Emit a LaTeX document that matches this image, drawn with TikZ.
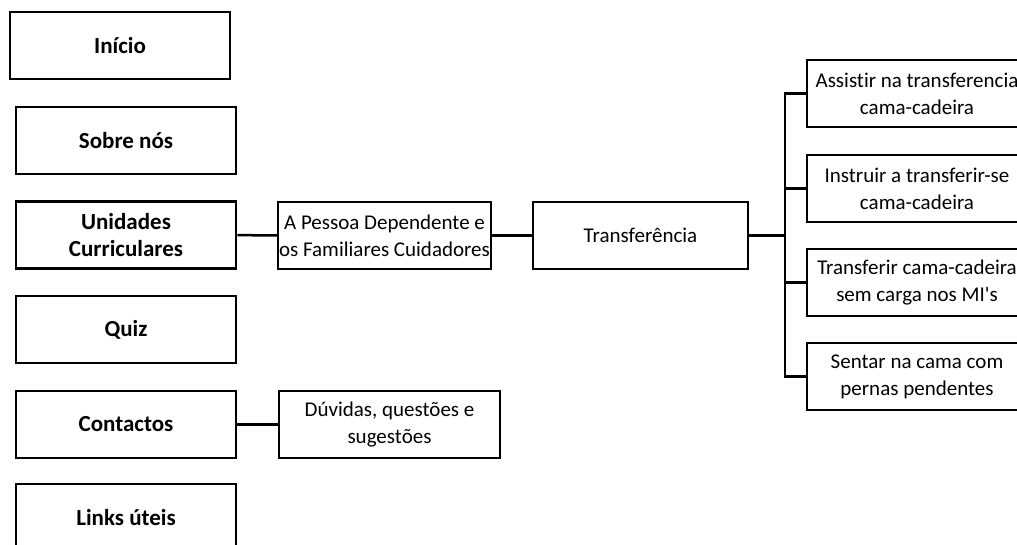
\documentclass[tikz,border=0pt]{standalone}
\usepackage{fontspec}
\setmainfont{Carlito}[Ligatures={TeXOff,NoCommon}]

\tikzset{menubox/.style={
    	draw, line width=2.5pt, minimum width=220pt, minimum height=67pt,
    	font=\fontsize{23}{27}\selectfont\bfseries, align=center, inner sep=0pt
  	},
  	subbox/.style={
    	draw, line width=2.5pt, minimum height=67pt,
    	font=\fontsize{21}{27}\selectfont, align=center, inner sep=0pt
  	},
  	link/.style={line width=2.5pt}
}

\begin{document}
\begin{tikzpicture}[x=1pt, y=-1pt]
		\useasboundingbox (0,0) rectangle (1017,544);
		\clip (0,0) rectangle (1017,544);
		% menu
		\node [menubox] (inicio) at (120,45.5) {Início};
		\node [menubox] (sobre) at (126,140.5) {Sobre nós};
		\node [menubox] (unidades) at (126,235) {Unidades\\Curriculares};
		\node [menubox] (quiz) at (126,329.5) {Quiz};
		\node [menubox] (contactos) at (126,424.5) {Contactos};
		\node [menubox] (links) at (126,517.5) {Links úteis};
		% segundo nivel
		\node [subbox, minimum width=213pt] (pessoa) at (384.5,235.5) {A Pessoa Dependente e\\os Familiares Cuidadores};
		\node [subbox, minimum width=221pt] (duvidas) at (389.5,424.5) {Dúvidas, questões e\\sugestões};
		\node [subbox, minimum width=215pt] (transf) at (640.5,235.5) {Transferência};
		% terceiro nivel
		\node [subbox, minimum width=220pt] (assistir) at (917,93.5) {Assistir na transferencia\\cama-cadeira};
		\node [subbox, minimum width=220pt] (instruir) at (917,188.5) {Instruir a transferir-se\\cama-cadeira};
		\node [subbox, minimum width=220pt] (semcarga) at (917,282.5) {Transferir cama-cadeira\\sem carga nos MI's};
		\node [subbox, minimum width=220pt] (sentar) at (917,376.5) {Sentar na cama com\\pernas pendentes};
		
		\draw [link] (unidades) -- (pessoa);
		\draw [link] (pessoa) -- (transf);
		\draw [link] (contactos) -- (duvidas);
		\coordinate (bus) at (785,235.5);
		\draw [link] (transf) -- (bus);
		\foreach \r in {assistir, instruir, semcarga, sentar}
			\draw [link] (bus) |- (\r.west);
		
	\end{tikzpicture}
\end{document}
